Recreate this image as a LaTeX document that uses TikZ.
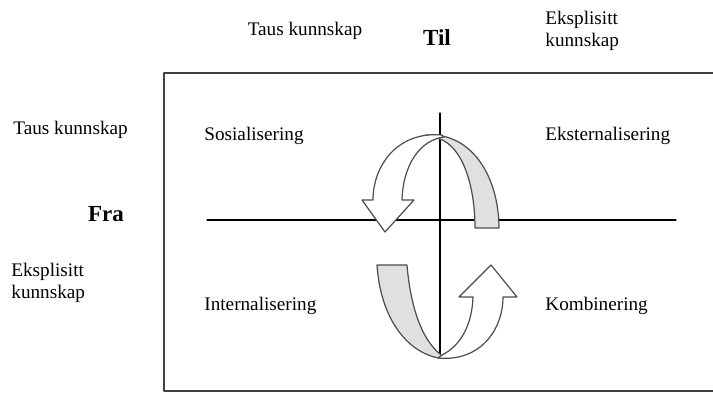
\documentclass[tikz,border=0pt]{standalone}
\usepackage{fontspec}
\setmainfont{Liberation Serif}
\begin{document}
\begin{tikzpicture}[x=0.5pt,y=-0.5pt,font=\fontsize{9.6}{11}\selectfont, line join=round, line cap=round,
	lbl/.style={anchor=west,inner sep=0pt,align=left},
	big/.style={font=\fontsize{11.5}{13}\selectfont\bfseries,inner sep=0pt},
	band/.style={draw=black!70,line width=0.6pt}]
	\useasboundingbox (0,0) rectangle (713,392);
	% ramme
	\draw[black!75,line width=0.8pt] (718,73)--(164,73)--(164,391)--(718,391);
	% akser
	\draw[line width=0.6pt] (207,220)--(676,220);
	\draw[line width=0.6pt] (440,113)--(440,357);
	% overskrifter
	\node[inner sep=0pt] (tTaus) at (305,31) {Taus kunnskap};
	\node[big] (til) at (437,38) {Til};
	\node[lbl] (tEks) at (545,31) {Eksplisitt\\kunnskap};
	\node[lbl] (fTaus) at (13,130) {Taus kunnskap};
	\node[big] (fra) at (106,214) {Fra};
	\node[lbl] (fEks) at (11,283) {Eksplisitt\\kunnskap};
	% kvadranter
	\node[lbl] (sos) at (204,136) {Sosialisering};
	\node[lbl] (eks) at (545,136) {Eksternalisering};
	\node[lbl] (int) at (204,306) {Internalisering};
	\node[lbl] (kom) at (545,306) {Kombinering};
	% piler oppe
	\draw[band,fill=black!12] (426,135) .. controls (474,132) and (499,180) .. (499,228) -- (475,228)
		.. controls (475,185) and (462,140) .. (432,137) -- cycle;
	\draw[band,fill=white] (442,135) .. controls (398,131) and (373,165) .. (373,200) -- (362,200) -- (385,232)
		-- (414,200) -- (402,200) .. controls (403,165) and (420,140) .. (444,137) -- cycle;
	% piler nede
	\draw[band,fill=black!12] (377,265) -- (407,265) .. controls (411,312) and (424,344) .. (444,357)
		-- (438,358) .. controls (402,350) and (380,312) .. (377,265) -- cycle;
	\draw[band,fill=white] (438,358) .. controls (480,362) and (503,330) .. (503,297) -- (517,297) -- (491,265)
		-- (459,297) -- (473,297) .. controls (472,326) and (460,346) .. (442,355) -- cycle;
\end{tikzpicture}
\end{document}
